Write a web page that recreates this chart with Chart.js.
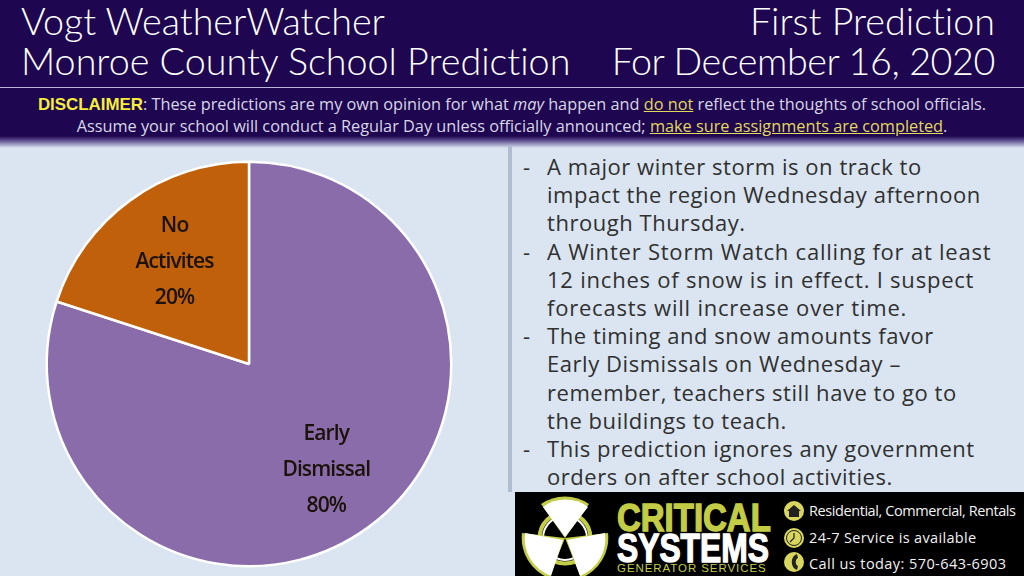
<!DOCTYPE html>
<html>
<head>
<meta charset="utf-8">
<script src="https://cdn.jsdelivr.net/npm/chart.js@4"></script>
<style>
html, body { margin: 0; padding: 0; }
body { width: 1024px; height: 576px; overflow: hidden; position: relative; background: #dae5f1; font-family: "Open Sans", sans-serif; }
#head { position: absolute; left: 0; top: 0; width: 1024px; height: 138px; background: #1e0650; }
#fade { position: absolute; left: 0; top: 136px; width: 1024px; height: 12px; background: linear-gradient(#1e0650, #6d5f9c 45%, #dae5f1); }
#rule { position: absolute; left: 0; top: 87px; width: 1024px; height: 1px; background: #bdb6dc; }
.title { position: absolute; color: #fff; font: 300 37.7px/39px Lato, sans-serif; font-variant-ligatures: none; white-space: nowrap; }
.disc { position: absolute; left: 0; width: 1024px; text-align: center; color: #d9d6e6; font: 16.3px/20px "Open Sans", sans-serif; white-space: nowrap; }
.disc b { color: #f5ee3a; font-family: "Liberation Sans", sans-serif; font-size: 16.9px; }
.disc u { color: #e2d85c; }
#divider { position: absolute; left: 508px; top: 146px; width: 4px; height: 346px; background: #b0bccf; }
#chart { position: absolute; left: 0; top: 145px; }
#notes { position: absolute; left: 522px; top: 152px; margin: 0; padding: 0; list-style: none; color: #303030; font: 22px/28.2px "Open Sans", sans-serif; letter-spacing: .55px; white-space: nowrap; }
#notes li { padding-left: 25px; position: relative; }
#notes li:nth-child(2) { letter-spacing: .78px; }
#notes li:before { content: "-"; position: absolute; left: 1px; }
#ad { position: absolute; left: 515px; top: 492px; width: 509px; height: 84px; background: #000; overflow: hidden; }
#ad svg { position: absolute; left: 0; top: 0; }
.word { position: absolute; font-family: "Liberation Sans", sans-serif; font-weight: bold; line-height: 1; white-space: nowrap; transform-origin: left top; }
.svc { position: absolute; left: 294px; color: #f2f2f2; font: 14.5px/18px "Open Sans", sans-serif; white-space: nowrap; }
</style>
</head>
<body>
<div id="head"></div>
<div id="fade"></div>
<div id="rule"></div>
<div class="title" style="left:21px;top:1px">Vogt WeatherWatcher</div>
<div class="title" style="left:21px;top:41px">Monroe County School Prediction</div>
<div class="title" style="right:29px;top:1px">First Prediction</div>
<div class="title" style="right:29px;top:41px;letter-spacing:-.4px">For December 16, 2020</div>
<div class="disc" style="top:94px"><b>DISCLAIMER</b>: These predictions are my own opinion for what <i>may</i> happen and <u>do not</u> reflect the thoughts of school officials.</div>
<div class="disc" style="top:116px">Assume your school will conduct a Regular Day unless officially announced; <u>make sure assignments are completed</u>.</div>
<div id="divider"></div>
<canvas id="chart" width="498" height="438"></canvas>
<ul id="notes"></ul>
<div id="ad">
  <svg width="509" height="84" viewBox="0 0 509 84">
    <circle cx="50" cy="46" r="25.5" fill="#000" stroke="#c3cc45" stroke-width="4"/>
    <circle cx="50" cy="46" r="22" fill="none" stroke="#fff" stroke-width="2"/>
    <!-- olive rims behind the blades -->
    <path d="M50 46 L26 12 A42 42 0 0 1 74 12 Z" fill="#c3cc45"/>
    <path d="M50 46 L7 41 A43 43 0 0 0 34 86 Z" fill="#c3cc45"/>
    <path d="M50 46 L93 41 A43 43 0 0 1 66 86 Z" fill="#c3cc45"/>
    <path d="M50 45 L28 15 A38 38 0 0 1 73 15 Z" fill="#fff"/>
    <path d="M48 48 L10 41 A40 40 0 0 0 36 84 Z" fill="#fff"/>
    <path d="M52 48 L90 41 A40 40 0 0 1 65 84 Z" fill="#fff"/>
    <circle cx="279" cy="19" r="10" fill="#d9d65f"/>
    <path d="M272 19 L279 13 L286 19 L284 19 L284 25 L274 25 L274 19 Z" fill="#222"/>
    <circle cx="279" cy="46" r="10" fill="#d9d65f"/>
    <circle cx="279" cy="46" r="7.5" fill="none" stroke="#222" stroke-width="1"/>
    <path d="M279 41 L279 46 L275 50" fill="none" stroke="#222" stroke-width="1.2"/>
    <circle cx="279" cy="70" r="10" fill="#d9d65f"/>
    <path d="M282 62 C275 64 275 76 282 78 L283 74 C280 73 280 67 283 66 Z" fill="#222"/>
  </svg>
  <div class="word" style="left:102px;top:6px;font-size:39px;color:#c3cc45;-webkit-text-stroke:1.4px #c3cc45;transform:scaleX(.845)">CRITICAL</div>
  <div class="word" style="left:102px;top:36px;font-size:41px;color:#fff;-webkit-text-stroke:1.4px #fff;transform:scaleX(.775)">SYSTEMS</div>
  <div class="word" style="left:102px;top:71px;font-size:11.5px;font-weight:normal;letter-spacing:.93px;color:#c3cc45">GENERATOR SERVICES</div>
  <div class="svc" style="top:10px;letter-spacing:-.42px">Residential, Commercial, Rentals</div>
  <div class="svc" style="top:37px;letter-spacing:.35px">24-7 Service is available</div>
  <div class="svc" style="top:63px;letter-spacing:.43px">Call us today: 570-643-6903</div>
</div>
<script>
const categories = ['Early Dismissal', 'No Activites']
const labelLines = [['Early', 'Dismissal', '80%'], ['No', 'Activites', '20%']]
const shares = [80, 20]
const sliceColors = ['#8a6cab', '#c0600b']
const labelRadius = [0.65, 0.626]
const notes = [
	['A major winter storm is on track to', 'impact the region Wednesday afternoon', 'through Thursday.'],
	['A Winter Storm Watch calling for at least', '12 inches of snow is in effect. I suspect', 'forecasts will increase over time.'],
	['The timing and snow amounts favor', 'Early Dismissals on Wednesday \u2013', 'remember, teachers still have to go to', 'the buildings to teach.'],
	['This prediction ignores any government', 'orders on after school activities.']
]

let list = document.getElementById('notes')
notes.forEach(lines => {
	let li = document.createElement('li')
	li.innerHTML = lines.join('<br>')
	list.appendChild(li)
})

// slice captions sit further out than the arc's own centre point
const sliceLabels = {
	id: 'sliceLabels',
	afterDatasetsDraw(chart) {
		let ctx = chart.ctx
		ctx.save()
		ctx.fillStyle = '#1a1208'
		ctx.font = '600 21px "Open Sans", sans-serif'
		ctx.letterSpacing = '-0.9px'
		ctx.textAlign = 'center'
		ctx.textBaseline = 'middle'
		chart.getDatasetMeta(0).data.forEach((arc, i) => {
			let mid = (arc.startAngle + arc.endAngle) / 2
			let r = arc.outerRadius * labelRadius[i]
			let x = arc.x + Math.cos(mid) * r
			let y = arc.y + Math.sin(mid) * r
			labelLines[i].forEach((line, n) => {
				ctx.fillText(line, x, y + (n - 1) * 36)
			})
		})
		ctx.restore()
	}
}

new Chart(document.getElementById('chart'), {
	type: 'pie',
	data: {
		labels: categories,
		datasets: [{
			data: shares,
			backgroundColor: sliceColors,
			borderColor: '#ffffff',
			borderWidth: 2.5
		}]
	},
	options: {
		responsive: false,
		animation: false,
		layout: { padding: 15.5 },
		plugins: {
			legend: { display: false },
			title: { display: false },
			tooltip: { enabled: false }
		}
	},
	plugins: [sliceLabels]
})
</script>
</body>
</html>
